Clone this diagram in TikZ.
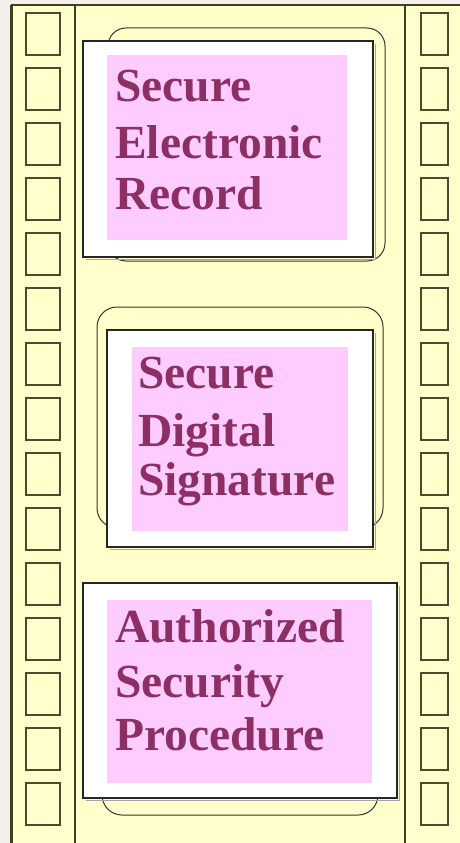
\documentclass[tikz,border=0pt]{standalone}
\usepackage{fontspec}
\setmainfont{Liberation Serif}
\definecolor{filmyellow}{HTML}{FFFFCC}
\definecolor{pinkc}{HTML}{FFCCFF}
\definecolor{textc}{HTML}{8C2F63}
\definecolor{linec}{HTML}{3F3F22}
\definecolor{holec}{HTML}{4A4A2C}
\definecolor{pagec}{HTML}{F3F0EC}
\begin{document}
\begin{tikzpicture}[x=1pt,y=-1pt,
  stripline/.style={draw=linec, line width=1.6pt},
  hole/.style={draw=holec, line width=1.8pt, fill=filmyellow},
  back/.style={draw=black!80, line width=1pt, fill=filmyellow, rounded corners=18pt},
  framebox/.style={draw=black!85, line width=1.5pt, fill=white},
  shadowline/.style={draw=black!35, line width=1pt},
  pinkbox/.style={fill=pinkc},
  lbl/.style={anchor=base west, inner sep=0pt, font=\fontsize{47.5}{54}\selectfont\bfseries, text=textc}]
\useasboundingbox (0,0) rectangle (460,843);
% page and film
\fill[pagec] (0,0) rectangle (460,843);
\fill[filmyellow] (11,5) rectangle (460,843);
\draw[linec, line width=1.8pt] (11,5) -- (460,5);
\draw[linec, line width=3pt] (11,5) -- (11,843);
\draw[stripline] (75,5) -- (75,843);
\draw[stripline] (405,5) -- (405,843);
% sprocket holes
\foreach \k in {0,...,14}{
  \pgfmathsetmacro{\ya}{13+55*\k}
  \pgfmathsetmacro{\yb}{\ya+42}
  \draw[hole] (26,\ya) rectangle (60,\yb);
  \draw[hole] (421,\ya) rectangle (448,\yb);
}
% frame 1
\draw[back] (108,28) rectangle (385,261);
\draw[shadowline] (86,259) -- (375,259) -- (375,44);
\draw[framebox] (83,41) rectangle (373,257);
\fill[pinkbox] (107,55) rectangle (347,240);
\node[lbl] (s1) at (115,101) {Secure};
\node[lbl] (e1) at (115,158) {Electronic};
\node[lbl] (r1) at (115,209) {Record};
% frame 2
\draw[back, rounded corners=20pt] (97,307) rectangle (383,528);
\draw[shadowline] (110,549) -- (375,549) -- (375,333);
\draw[framebox] (107,330) rectangle (373,547);
\fill[pinkbox] (132,347) rectangle (348,531);
\node[lbl] (s2) at (138,388) {Secure};
\node[lbl] (d2) at (138,446) {Digital};
\node[lbl] (g2) at (138,495) {Signature};
% frame 3
\draw[back, rounded corners=20pt] (102,600) rectangle (378,815);
\draw[shadowline] (86,800) -- (399,800) -- (399,586);
\draw[framebox] (83,583) rectangle (397,798);
\fill[pinkbox] (107,600) rectangle (372,783);
\node[lbl] (a3) at (115,642) {Authorized};
\node[lbl] (c3) at (115,697) {Security};
\node[lbl] (p3) at (115,750) {Procedure};
\end{tikzpicture}
\end{document}
